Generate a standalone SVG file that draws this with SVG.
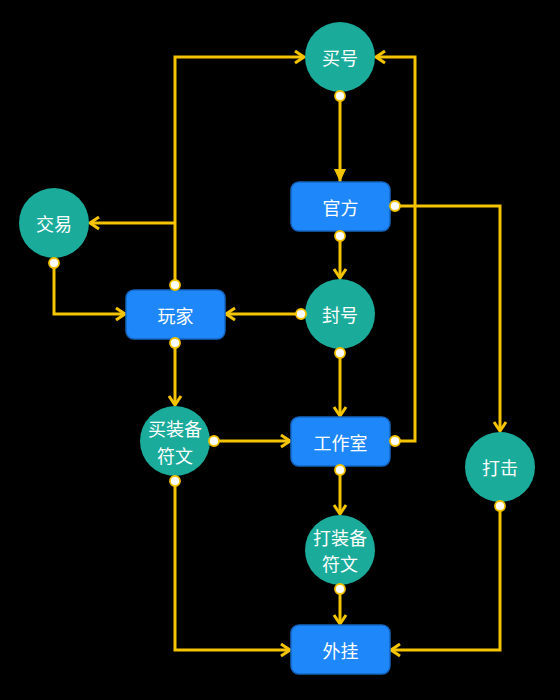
<svg xmlns="http://www.w3.org/2000/svg" width="560" height="700" viewBox="0 0 560 700">
<style>
.bg{fill:#000}
.c{fill:#1aab9b}
.r{fill:#1e88fa;stroke:#1565c0;stroke-width:1.5}
.t{fill:#fff;font-family:"Noto Sans CJK SC","Noto Sans",sans-serif;font-size:18px;text-anchor:middle;dominant-baseline:central}
.e{fill:none;stroke:#f5c400;stroke-width:3;stroke-linejoin:miter}
.o{marker-end:url(#ch)}
.p{fill:#fff;stroke:#f5c400;stroke-width:1.8}
</style>
<defs>
<marker id="ch" viewBox="-12 -8 14 16" markerWidth="14" markerHeight="16" refX="0" refY="0" orient="auto" markerUnits="userSpaceOnUse">
<path d="M-9,-6 L0,0 L-9,6" fill="none" stroke="#f5c400" stroke-width="3"/>
</marker>
<marker id="tri" viewBox="-14 -7 15 14" markerWidth="15" markerHeight="14" refX="0" refY="0" orient="auto" markerUnits="userSpaceOnUse">
<path d="M-13,-6 L0,0 L-13,6 Z" fill="#f5c400"/>
</marker>
</defs>
<rect class="bg" x="0" y="0" width="560" height="700"/>
<g id="connectors">
<path class="e" d="M340,96 L340,182" marker-end="url(#tri)"/>
<path class="e o" d="M395,206 L500,206 L500,431"/>
<path class="e o" d="M340,236 L340,278"/>
<path class="e o" d="M301,314 L226,314"/>
<path class="e o" d="M340,353 L340,416"/>
<path class="e o" d="M175,285 L175,57 L304,57"/>
<path class="e o" d="M175,223 L90,223"/>
<path class="e o" d="M54,263 L54,314 L125,314"/>
<path class="e o" d="M175,343 L175,405"/>
<path class="e o" d="M214,441 L290,441"/>
<path class="e o" d="M175,481 L175,650 L290,650"/>
<path class="e o" d="M395,441 L415,441 L415,57 L376,57"/>
<path class="e o" d="M340,470 L340,514"/>
<path class="e o" d="M340,589 L340,624"/>
<path class="e o" d="M500,506 L500,650 L391,650"/>
</g>
<g id="n-maihao"><circle class="c" cx="340" cy="57" r="35"/><text class="t" x="340" y="57">买号</text></g>
<g id="n-guanfang"><rect class="r" x="291" y="182" width="99" height="49" rx="8"/><text class="t" x="340.5" y="206.5">官方</text></g>
<g id="n-jiaoyi"><circle class="c" cx="54" cy="223" r="35"/><text class="t" x="54" y="223">交易</text></g>
<g id="n-wanjia"><rect class="r" x="126" y="290" width="99" height="49" rx="8"/><text class="t" x="175.5" y="314.5">玩家</text></g>
<g id="n-fenghao"><circle class="c" cx="340" cy="314" r="35"/><text class="t" x="340" y="314">封号</text></g>
<g id="n-maizb"><circle class="c" cx="175" cy="441" r="35"/><text class="t" x="175" y="428">买装备</text><text class="t" x="175" y="454.5">符文</text></g>
<g id="n-gongzuoshi"><rect class="r" x="291" y="417" width="99" height="49" rx="8"/><text class="t" x="340.5" y="441.5">工作室</text></g>
<g id="n-daji"><circle class="c" cx="500" cy="467" r="35"/><text class="t" x="500" y="467">打击</text></g>
<g id="n-dazb"><circle class="c" cx="340" cy="550" r="35"/><text class="t" x="340" y="536.5">打装备</text><text class="t" x="340" y="563">符文</text></g>
<g id="n-waigua"><rect class="r" x="291" y="625" width="99" height="49" rx="8"/><text class="t" x="340.5" y="649.5">外挂</text></g>
<g id="ports">
<circle class="p" cx="340" cy="96" r="5"/>
<circle class="p" cx="395" cy="206" r="5"/>
<circle class="p" cx="340" cy="236" r="5"/>
<circle class="p" cx="54" cy="263" r="5"/>
<circle class="p" cx="175" cy="285" r="5"/>
<circle class="p" cx="175" cy="343" r="5"/>
<circle class="p" cx="301" cy="314" r="5"/>
<circle class="p" cx="340" cy="353" r="5"/>
<circle class="p" cx="214" cy="441" r="5"/>
<circle class="p" cx="175" cy="481" r="5"/>
<circle class="p" cx="395" cy="441" r="5"/>
<circle class="p" cx="340" cy="470" r="5"/>
<circle class="p" cx="340" cy="589" r="5"/>
<circle class="p" cx="500" cy="506" r="5"/>
</g>
</svg>
